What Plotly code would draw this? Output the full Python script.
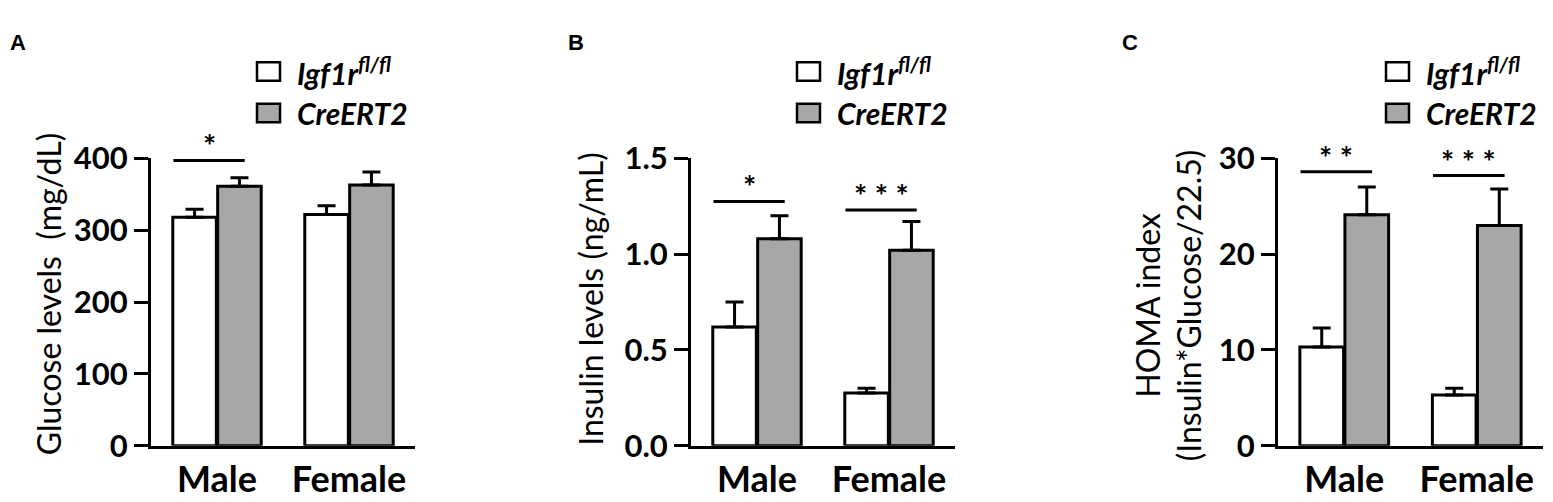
import plotly.graph_objects as go

# groups on the x axis
categories = ["Male", "Female"]
groups = ["<i>Igf1r<sup>fl/fl</sup></i>", "<i>CreERT2</i>"]

# panel A - glucose (mg/dL)
glucose_ctrl = [318, 322]
glucose_ctrl_sem = [11, 12]
glucose_cre = [361, 363]
glucose_cre_sem = [12, 18]

# panel B - insulin (ng/mL)
insulin_ctrl = [0.62, 0.275]
insulin_ctrl_sem = [0.13, 0.025]
insulin_cre = [1.08, 1.02]
insulin_cre_sem = [0.12, 0.15]

# panel C - HOMA index
homa_ctrl = [10.3, 5.3]
homa_ctrl_sem = [2.0, 0.7]
homa_cre = [24.1, 23.0]
homa_cre_sem = [2.9, 3.8]

# significance labels / bracket heights per group
sig_a = ["*", ""]
sig_a_y = [397, None]
sig_b = ["*", "* * *"]
sig_b_y = [1.275, 1.23]
sig_c = ["* *", "* * *"]
sig_c_y = [28.6, 28.2]

W, H = 1553, 502


def fx(px):
    return px / W


def fy(py):
    return 1 - py / H


panels = [
    dict(letter="A", ctrl=glucose_ctrl, ctrl_e=glucose_ctrl_sem, cre=glucose_cre, cre_e=glucose_cre_sem,
         sig=sig_a, sig_y=sig_a_y, ymax=400, dtick=100, fmt="d",
         title="Glucose levels  (mg/dL)", title_y=288, dom=(143, 407), title_x=40, letter_x=10, leg_x=249),
    dict(letter="B", ctrl=insulin_ctrl, ctrl_e=insulin_ctrl_sem, cre=insulin_cre, cre_e=insulin_cre_sem,
         sig=sig_b, sig_y=sig_b_y, ymax=1.5, dtick=0.5, fmt=".1f",
         title="Insulin levels (ng/mL)", title_y=293, dom=(683, 947), title_x=583, letter_x=568, leg_x=789),
    dict(letter="C", ctrl=homa_ctrl, ctrl_e=homa_ctrl_sem, cre=homa_cre, cre_e=homa_cre_sem,
         sig=sig_c, sig_y=sig_c_y, ymax=30, dtick=10, fmt="d",
         title="HOMA index<br>(Insulin*Glucose/22.5)", title_y=300, dom=(1270, 1535), title_x=1160,
         letter_x=1122, leg_x=1378),
]

FONT = "Lato"
GRAY = "#a7a7aa"
y_top, y_bot = 141, 452

fig = go.Figure()
xpos = list(range(len(categories)))

for i, p in enumerate(panels):
    n = "" if i == 0 else str(i + 1)
    xa, ya = "x" + n, "y" + n
    for vals, errs, color, name in [(p["ctrl"], p["ctrl_e"], "white", groups[0]),
                                    (p["cre"], p["cre_e"], GRAY, groups[1])]:
        fig.add_trace(go.Bar(
            x=xpos, y=vals, name=name, xaxis=xa, yaxis=ya, showlegend=False,
            marker=dict(color=color, line=dict(color="black", width=3)),
            error_y=dict(type="data", array=errs, arrayminus=[0] * len(errs), symmetric=False,
                         color="black", thickness=3, width=9),
        ))

    fig.update_layout({
        "xaxis" + n: dict(domain=[fx(p["dom"][0]), fx(p["dom"][1])], anchor=ya,
                          range=[-0.5, 1.5], tickvals=xpos, ticktext=categories,
                          showline=True, linewidth=3, linecolor="black", ticks="",
                          showgrid=False, zeroline=False, ticklabelstandoff=0,
                          tickfont=dict(family=FONT, size=36, color="black", weight="bold")),
        "yaxis" + n: dict(domain=[fy(y_bot), fy(y_top)], anchor=xa,
                          range=[0, p["ymax"]], dtick=p["dtick"], tickformat=p["fmt"],
                          showline=True, linewidth=3, linecolor="black",
                          ticks="outside", ticklen=14, tickwidth=3, tickcolor="black",
                          showgrid=False, zeroline=False,
                          tickfont=dict(family=FONT, size=31, color="black", weight="bold")),
    })

    # significance brackets
    for j, (lab, sy) in enumerate(zip(p["sig"], p["sig_y"])):
        if not lab:
            continue
        fig.add_shape(type="line", xref=xa, yref=ya, x0=j - 0.33, x1=j + 0.21, y0=sy, y1=sy,
                      line=dict(color="black", width=3))
        fig.add_annotation(xref=xa, yref=ya, x=j - 0.06, y=sy, text=lab, showarrow=False,
                           yanchor="bottom", yshift=-6,
                           font=dict(family=FONT, size=31, color="black", weight="bold"))

    # y title
    fig.add_annotation(xref="paper", yref="paper", x=fx(p["title_x"]), y=fy(p["title_y"]),
                       text=p["title"], textangle=-90, showarrow=False,
                       xanchor="center", yanchor="middle",
                       font=dict(family=FONT, size=32, color="black"))
    # panel letter
    fig.add_annotation(xref="paper", yref="paper", x=fx(p["letter_x"]), y=fy(16),
                       text="<b>" + p["letter"] + "</b>", showarrow=False,
                       xanchor="center", yanchor="middle",
                       font=dict(family="Liberation Sans", size=22, color="black"))

    # legend boxes
    for k, (name, color) in enumerate(zip(groups, ["white", GRAY])):
        yc = 47 + 45 * k
        fig.add_shape(type="rect", xref="paper", yref="paper",
                      x0=fx(p["leg_x"]), x1=fx(p["leg_x"] + 23),
                      y0=fy(yc + 10), y1=fy(yc - 10),
                      fillcolor=color, line=dict(color="black", width=2.5))
        fig.add_annotation(xref="paper", yref="paper", x=fx(p["leg_x"] + 38), y=fy(yc),
                           text=name, showarrow=False, xanchor="left", yanchor="middle",
                           font=dict(family=FONT, size=30, color="black", weight="bold"))

fig.update_layout(
    width=W, height=H, margin=dict(l=0, r=0, t=0, b=0),
    barmode="group", bargap=0.32, bargroupgap=0.03,
    plot_bgcolor="white", paper_bgcolor="white",
)

fig.write_html("out.html")
